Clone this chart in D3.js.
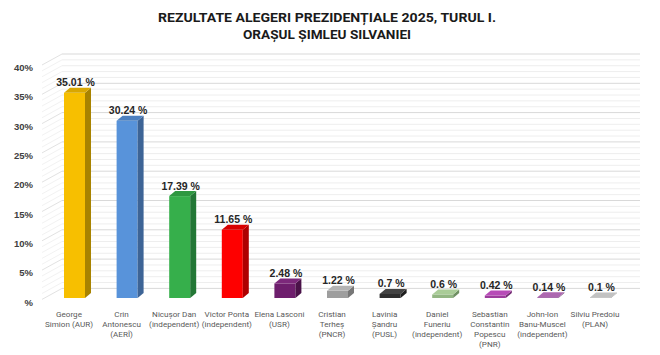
<!DOCTYPE html>
<html><head><meta charset="utf-8">
<script src="https://cdn.jsdelivr.net/npm/d3@7"></script>
<style>html,body{margin:0;padding:0;background:#fff;}</style>
</head><body>
<svg id="chart" width="660" height="355"></svg>
<script>
const titleLines = ["REZULTATE ALEGERI PREZIDENȚIALE 2025, TURUL I.", "ORAȘUL ȘIMLEU SILVANIEI"];
const candidates = ["George Simion (AUR)", "Crin Antonescu (AERÎ)", "Nicușor Dan (independent)", "Victor Ponta (independent)", "Elena Lasconi (USR)", "Cristian Terheș (PNCR)", "Lavinia Șandru (PUSL)", "Daniel Funeriu (independent)", "Sebastian Constantin Popescu (PNR)", "John-Ion Banu-Muscel (independent)", "Silviu Predoiu (PLAN)"];
const labelLines = [["George","Simion (AUR)"],["Crin","Antonescu","(AERÎ)"],["Nicușor Dan","(independent)"],["Victor Ponta","(independent)"],["Elena Lasconi","(USR)"],["Cristian","Terheș","(PNCR)"],["Lavinia","Șandru","(PUSL)"],["Daniel","Funeriu","(independent)"],["Sebastian","Constantin","Popescu","(PNR)"],["John-Ion","Banu-Muscel","(independent)"],["Silviu Predoiu","(PLAN)"]];
const values = [35.01, 30.24, 17.39, 11.65, 2.48, 1.22, 0.7, 0.6, 0.42, 0.14, 0.1];
const valueLabels = ["35.01 %","30.24 %","17.39 %","11.65 %","2.48 %","1.22 %","0.7 %","0.6 %","0.42 %","0.14 %","0.1 %"];
const yTicks = [0, 5, 10, 15, 20, 25, 30, 35, 40];
const yTickLabels = ["%", "5%", "10%", "15%", "20%", "25%", "30%", "35%", "40%"];

// colour palette: [front, side, top]
const palette = [
  ["#F7BF00","#A88300","#D9A700"],
  ["#5893DA","#3D6496","#4D80C0"],
  ["#36AF4B","#237736","#2E9840"],
  ["#FE0000","#AE0000","#D80000"],
  ["#6E1E6D","#4A1249","#7C287B"],
  ["#9E9E9E","#777777","#B3B3B3"],
  ["#2E2E2E","#1E1E1E","#434343"],
  ["#93B683","#6F8F62","#AACC98"],
  ["#9D3C9D","#732B73","#B74BB7"],
  ["#94559A","#6C3E70","#AD68B0"],
  ["#A9A9A9","#858585","#C2C2C2"]
];

const svg = d3.select("#chart");

// scales
const x = d3.scalePoint().domain(candidates).range([48.2, 626.8]).padding(0.5);
const y = d3.scaleLinear().domain([0, 40]).range([298, 298 - 40 * 5.86]);
const barW = 21, dX = 6, dY = -5;
const wallDY = -9.6;               // back wall offset from front plane
const sideDX = -20, sideDY = 11;   // side wall depth
const wallLeft = 62, wallRight = 640;

// title
svg.selectAll("text.title").data(titleLines).join("text")
  .attr("class","title")
  .attr("x", 327).attr("y", (d,i) => 22 + i*17)
  .attr("text-anchor","middle")
  .attr("font-family","Roboto, 'Liberation Sans', sans-serif")
  .attr("font-weight","bold").attr("font-size", 13.5)
  .attr("fill","#1a1a1a")
  .attr("textLength", (d,i) => i === 0 ? 338 : 168)
  .attr("lengthAdjust","spacingAndGlyphs")
  .text(d => d);

// walls / gridlines
const minor = d3.range(0, 41, 1);
const yb = v => y(v) + wallDY;
const g = svg.append("g");
g.selectAll("line.minor").data(minor.filter(v => v % 5 !== 0)).join("line")
  .attr("x1", wallLeft).attr("x2", wallRight)
  .attr("y1", d => yb(d)).attr("y2", d => yb(d))
  .attr("stroke","#eeeeee").attr("stroke-width",1);
g.selectAll("line.sminor").data(minor.filter(v => v % 5 !== 0)).join("line")
  .attr("x1", wallLeft).attr("x2", wallLeft + sideDX)
  .attr("y1", d => yb(d)).attr("y2", d => yb(d) + sideDY)
  .attr("stroke","#f2f2f2").attr("stroke-width",1);
g.selectAll("line.major").data(yTicks).join("line")
  .attr("x1", wallLeft).attr("x2", wallRight)
  .attr("y1", d => yb(d)).attr("y2", d => yb(d))
  .attr("stroke","#d9d9d9").attr("stroke-width",1);
g.selectAll("line.smajor").data(yTicks).join("line")
  .attr("x1", wallLeft).attr("x2", wallLeft + sideDX)
  .attr("y1", d => yb(d)).attr("y2", d => yb(d) + sideDY)
  .attr("stroke","#e2e2e2").attr("stroke-width",1);

// y axis labels
svg.append("g").selectAll("text").data(yTicks).join("text")
  .attr("x", 33).attr("y", d => y(d) + 7.5)
  .attr("text-anchor","end")
  .attr("font-family","'Liberation Sans', Arial, sans-serif")
  .attr("font-weight","bold").attr("font-size", 9.5)
  .attr("fill","#404040")
  .text((d,i) => yTickLabels[i]);

// bars
const bars = svg.append("g").selectAll("g").data(values).join("g");
bars.each(function(v, i) {
  const cx = x(candidates[i]);
  const x0 = cx - barW/2, x1 = cx + barW/2;
  const yt = y(v), y0 = y(0);
  const sel = d3.select(this);
  const c = palette[i];
  sel.append("rect").attr("x", x0).attr("y", yt).attr("width", barW).attr("height", Math.max(0, y0 - yt)).attr("fill", c[0]);
  sel.append("path").attr("d", `M${x1},${yt}L${x1+dX},${yt+dY}L${x1+dX},${y0+dY}L${x1},${y0}Z`).attr("fill", c[1]);
  sel.append("path").attr("d", `M${x0},${yt}L${x0+dX},${yt+dY}L${x1+dX},${yt+dY}L${x1},${yt}Z`).attr("fill", c[2]);
});

// value labels
svg.append("g").selectAll("text").data(values).join("text")
  .attr("x", (d,i) => x(candidates[i]) + 1)
  .attr("y", d => y(d) - 6.5)
  .attr("text-anchor","middle")
  .attr("font-family","'Liberation Sans', Arial, sans-serif")
  .attr("font-weight","bold").attr("font-size", 10.5)
  .attr("fill","#262626")
  .text((d,i) => valueLabels[i]);

// category labels
const cat = svg.append("g").selectAll("text").data(candidates).join("text")
  .attr("x", d => x(d) - 5.5)
  .attr("y", 316.5)
  .attr("text-anchor","middle")
  .attr("font-family","Roboto, 'Liberation Sans', sans-serif")
  .attr("font-size", 8.1)
  .attr("fill","#595959");
cat.selectAll("tspan").data((d,i) => labelLines[i]).join("tspan")
  .attr("x", function() { return d3.select(this.parentNode).attr("x"); })
  .attr("dy", (d,i) => i === 0 ? 0 : 10.3)
  .text(d => d);
</script>
</body></html>
